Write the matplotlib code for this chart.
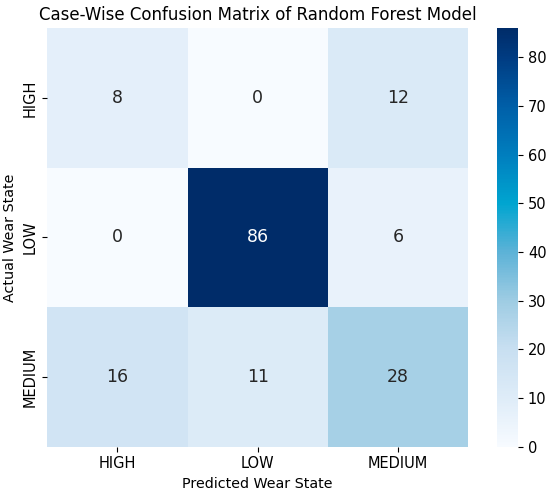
import matplotlib
matplotlib.use("Agg")
import matplotlib.pyplot as plt
import seaborn as sns
import numpy as np
from matplotlib.colors import LinearSegmentedColormap

labels = ["HIGH", "LOW", "MEDIUM"]
row_high = [8, 0, 12]
row_low = [0, 86, 6]
row_medium = [16, 11, 28]

cm = np.array([row_high, row_low, row_medium])

# colour ramp as seen in the reference (saturated Blues)
anchor_vals = [0, 10, 20, 30, 40, 50, 60, 70, 80, 86]
anchor_cols = [(247, 251, 255), (222, 236, 248), (200, 223, 241), (158, 204, 227),
               (92, 178, 215), (0, 165, 208), (0, 126, 190), (0, 95, 168),
               (0, 60, 130), (0, 44, 105)]
cmap = LinearSegmentedColormap.from_list(
    "ref_blues",
    [(v / 86, tuple(c / 255 for c in col)) for v, col in zip(anchor_vals, anchor_cols)])

fig = plt.figure(figsize=(5.5, 4.92), dpi=100)
ax = fig.add_axes([0.086, 0.092, 0.765, 0.851])
cax = fig.add_axes([0.904, 0.092, 0.038, 0.851])
sns.heatmap(cm, annot=True, fmt="d", cmap=cmap, vmin=0, vmax=86, ax=ax, cbar_ax=cax,
            xticklabels=labels, yticklabels=labels, annot_kws={"size": 12.5})
ax.set_title("Case-Wise Confusion Matrix of Random Forest Model", fontsize=12)
ax.set_xlabel("Predicted Wear State", fontsize=10.3)
ax.set_ylabel("Actual Wear State", fontsize=10.3)
ax.tick_params(labelsize=10.5)
cax.tick_params(labelsize=10.5)
fig.savefig("out.png", dpi=100)
